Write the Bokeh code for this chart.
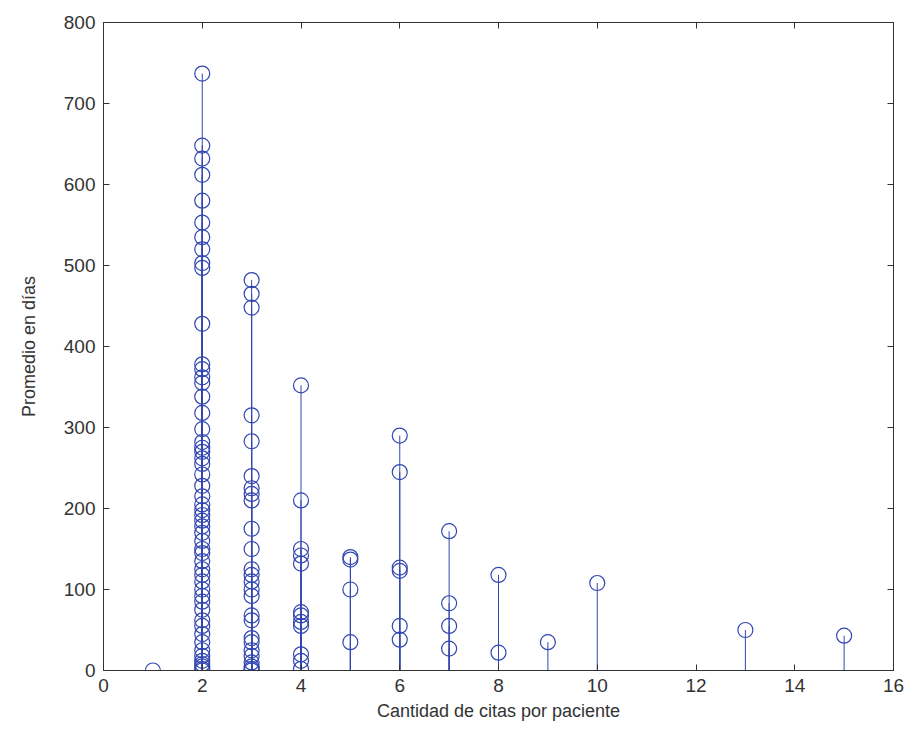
from bokeh.plotting import figure
from bokeh.models import Range1d, LinearAxis, FixedTicker
from bokeh.embed import file_html
from bokeh.resources import INLINE

# Data: number of appointments per patient (x) and average days (y)
x_vals_2 = [2] * 54
y_vals_2 = [737, 648, 632, 612, 580, 553, 535, 520, 503, 497, 428, 378, 372, 362,
            355, 338, 318, 298, 282, 275, 270, 262, 255, 242, 228, 215, 205, 198,
            192, 185, 178, 170, 160, 150, 145, 135, 125, 118, 110, 100, 92, 85, 75,
            62, 55, 45, 35, 25, 18, 12, 8, 5, 2, 0]
y_vals_3 = [482, 465, 448, 315, 283, 240, 225, 218, 210, 175, 150, 125, 118, 110,
            100, 92, 68, 62, 40, 35, 25, 18, 10, 5, 2, 0]
y_vals_4 = [352, 210, 150, 142, 132, 72, 68, 60, 55, 20, 12, 2]
y_vals_5 = [140, 137, 100, 35]
y_vals_6 = [290, 245, 127, 123, 55, 38]
y_vals_7 = [172, 83, 55, 27]
y_vals_8 = [118, 22]
y_vals_other = [0, 35, 108, 50, 43]
x_vals_other = [1, 9, 10, 13, 15]

xs = (x_vals_2 + [3] * len(y_vals_3) + [4] * len(y_vals_4) + [5] * len(y_vals_5)
      + [6] * len(y_vals_6) + [7] * len(y_vals_7) + [8] * len(y_vals_8) + x_vals_other)
ys = (y_vals_2 + y_vals_3 + y_vals_4 + y_vals_5 + y_vals_6 + y_vals_7 + y_vals_8
      + y_vals_other)

x_ticks = list(range(0, 17, 2))
y_ticks = list(range(0, 801, 100))

COLOR = "#3347b0"
FONT = "Liberation Sans"

p = figure(width=909, height=740, output_backend="svg", toolbar_location=None,
           x_range=Range1d(0, 16), y_range=Range1d(0, 800),
           min_border_left=103, min_border_right=16, min_border_top=22,
           min_border_bottom=70)
p.grid.visible = False
p.outline_line_color = "#333333"
p.background_fill_color = "white"
p.border_fill_color = "white"

p.segment(x0=xs, y0=[0] * len(ys), x1=xs, y1=ys, line_color=COLOR, line_width=1)
p.scatter(x=xs, y=ys, marker="circle", size=15, fill_color=None,
          line_color=COLOR, line_width=1.2)

for ax, ticks in ((p.xaxis[0], x_ticks), (p.yaxis[0], y_ticks)):
    ax.ticker = FixedTicker(ticks=ticks)
    ax.major_tick_in = 6
    ax.major_tick_out = 0
    ax.minor_tick_line_color = None
    ax.axis_line_color = "#333333"
    ax.major_tick_line_color = "#333333"
    ax.major_label_text_font = FONT
    ax.major_label_text_font_size = "19px"
    ax.major_label_text_color = "#333333"
    ax.axis_label_text_font = FONT
    ax.axis_label_text_font_size = "18px"
    ax.axis_label_text_font_style = "normal"
    ax.axis_label_text_color = "#333333"

p.xaxis[0].axis_label = "Cantidad de citas por paciente"
p.yaxis[0].axis_label = "Promedio en días"
p.xaxis[0].major_label_standoff = 8
p.yaxis[0].major_label_standoff = 8
p.xaxis[0].axis_label_standoff = 6
p.yaxis[0].axis_label_standoff = 22

top = LinearAxis(ticker=FixedTicker(ticks=x_ticks), major_label_text_color=None,
                 major_tick_in=6, major_tick_out=0, minor_tick_line_color=None,
                 axis_line_color="#333333", major_tick_line_color="#333333")
right = LinearAxis(ticker=FixedTicker(ticks=y_ticks), major_label_text_color=None,
                   major_tick_in=6, major_tick_out=0, minor_tick_line_color=None,
                   axis_line_color="#333333", major_tick_line_color="#333333")
p.add_layout(top, "above")
p.add_layout(right, "right")

open("out.html", "w").write(file_html(p, INLINE))
